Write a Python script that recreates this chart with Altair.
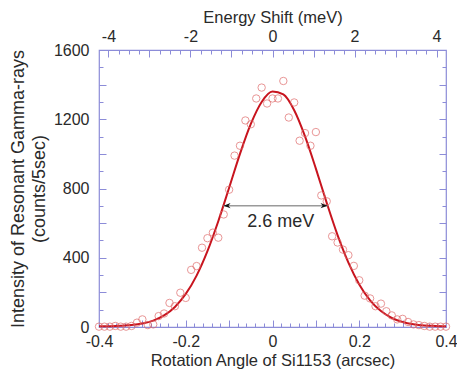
import altair as alt
import pandas as pd

# ---------------- data ----------------
angle = [-0.4, -0.3875, -0.375, -0.3625, -0.35, -0.3375, -0.325, -0.3125, -0.3, -0.2875,
         -0.275, -0.2625, -0.25, -0.2375, -0.225, -0.2125, -0.2, -0.1875, -0.175, -0.1625,
         -0.15, -0.1375, -0.125, -0.1125, -0.1, -0.0875, -0.075, -0.0625, -0.05, -0.0375,
         -0.025, -0.0125, 0.0, 0.0125, 0.025, 0.0375, 0.05, 0.0625, 0.075, 0.0875,
         0.1, 0.1125, 0.125, 0.1375, 0.15, 0.1625, 0.175, 0.1875, 0.2, 0.2125,
         0.225, 0.2375, 0.25, 0.2625, 0.275, 0.2875, 0.3, 0.3125, 0.325, 0.3375,
         0.35, 0.3625, 0.375, 0.3875, 0.4]
counts = [2, 2, 2, 6, 2, 2, 6, 25, 44, 11,
          15, 63, 78, 139, 120, 198, 168, 330, 352, 458,
          513, 545, 516, 650, 793, 990, 1047, 1193, 1171, 1320,
          1383, 1291, 1320, 1320, 1421, 1210, 1297, 1076, 1120, 1047,
          1126, 760, 726, 524, 488, 447, 415, 353, 270, 181,
          165, 120, 135, 91, 67, 44, 47, 29, 15, 11,
          6, 2, 2, 2, 2]

fit_angle = [-0.4, -0.375, -0.35, -0.325, -0.3, -0.275, -0.25, -0.225, -0.2, -0.175,
             -0.15, -0.125, -0.1, -0.075, -0.05, -0.025, 0.0, 0.025, 0.05, 0.075,
             0.1, 0.125, 0.15, 0.175, 0.2, 0.225, 0.25, 0.275, 0.3, 0.325,
             0.35, 0.375, 0.4]
fit_counts = [4, 5, 7, 11, 20, 37, 67, 116, 191, 297,
              438, 611, 804, 1000, 1173, 1300, 1360, 1343, 1252, 1101,
              915, 717, 531, 372, 246, 154, 92, 52, 29, 16,
              9, 6, 4]

arrow_x = [-0.113, 0.127]
arrow_y = [701, 701]
note_text = ["2.6 meV"]
note_x = [0.019]
note_y = [606]

x_labels = [-0.4, -0.2, 0, 0.2, 0.4]
y_labels = [0, 400, 800, 1200, 1600]
e_labels = [-4, -2, 0, 2, 4]
x_minor = [-0.38, -0.36, -0.34, -0.32, -0.28, -0.26, -0.24, -0.22, -0.18, -0.16, -0.14, -0.12,
           -0.08, -0.06, -0.04, -0.02, 0.02, 0.04, 0.06, 0.08, 0.12, 0.14, 0.16, 0.18,
           0.22, 0.24, 0.26, 0.28, 0.32, 0.34, 0.36, 0.38]
x_major = [-0.3, -0.2, -0.1, 0, 0.1, 0.2, 0.3]
y_minor = [100, 300, 500, 700, 900, 1100, 1300, 1500]
y_major = [200, 400, 600, 800, 1000, 1200, 1400]
e_minor = [-3.75, -3.5, -3.25, -2.75, -2.5, -2.25, -1.75, -1.5, -1.25, -0.75, -0.5, -0.25,
           0.25, 0.5, 0.75, 1.25, 1.5, 1.75, 2.25, 2.5, 2.75, 3.25, 3.5, 3.75]
e_major = [-4, -3, -2, -1, 0, 1, 2, 3, 4]

# ---------------- styling ----------------
BLUE = "#8c8cd8"
TEXT = "#2a2a2a"
FONT = "Liberation Sans"
LBL = 16

xs = alt.Scale(domain=[-0.4, 0.4], nice=False, zero=False)
ys = alt.Scale(domain=[0, 1600], nice=False, zero=False)
es = alt.Scale(domain=[-4.23, 4.23], nice=False, zero=False)

pts_df = pd.DataFrame({"angle": angle, "counts": counts})
fit_df = pd.DataFrame({"angle": fit_angle, "counts": fit_counts})
arrow_df = pd.DataFrame({"x1": [arrow_x[0]], "x2": [arrow_x[1]], "y": [arrow_y[0]]})
headL_df = pd.DataFrame({"x": [arrow_x[0]], "y": [arrow_y[0]]})
headR_df = pd.DataFrame({"x": [arrow_x[1]], "y": [arrow_y[1]]})
note_df = pd.DataFrame({"x": note_x, "y": note_y, "t": note_text})
e_df = pd.DataFrame({"e": e_labels, "c": [0] * len(e_labels)})

HYPHEN = "datum.value < 0 ? '-' + format(-datum.value, '~g') : format(datum.value, '~g')"


def tick_axis(orient, values, size):
    return alt.Axis(orient=orient, values=values, labels=False, ticks=True,
                    tickSize=size, offset=-size, tickColor=BLUE, tickWidth=1,
                    domain=False, grid=False, title=None)


def label_axis(orient, values, title, title_size, **kw):
    return alt.Axis(orient=orient, values=values, title=title, labelExpr=HYPHEN,
                    labelFlush=False, labelOverlap=False,
                    ticks=False, tickSize=0, domain=False, grid=False,
                    labelFont=FONT, labelFontSize=LBL, labelColor=TEXT,
                    titleFont=FONT, titleFontSize=title_size, titleColor=TEXT,
                    titleFontWeight="normal", **kw)


fit = alt.Chart(fit_df).mark_line(color="#c8141e", strokeWidth=2, interpolate="monotone").encode(
    x=alt.X("angle:Q", scale=xs,
            axis=label_axis("bottom", x_labels, "Rotation Angle of Si1153 (arcsec)", 16.5,
                            labelPadding=6, titlePadding=3)),
    y=alt.Y("counts:Q", scale=ys,
            axis=label_axis("left", y_labels, ["Intensity of Resonant Gamma-rays", "(counts/5sec)"], 18,
                            labelPadding=10, titlePadding=5, titleLineHeight=21)),
)

pts = alt.Chart(pts_df).mark_point(shape="circle", filled=False, color="#e06a6a",
                                   size=55, strokeWidth=1).encode(
    x=alt.X("angle:Q", scale=xs, axis=tick_axis("bottom", x_minor, 4)),
    y=alt.Y("counts:Q", scale=ys, axis=tick_axis("left", y_minor, 4)),
)

major = alt.Chart(pts_df).mark_point(opacity=0).encode(
    x=alt.X("angle:Q", scale=xs, axis=tick_axis("bottom", x_major, 7)),
    y=alt.Y("counts:Q", scale=ys, axis=tick_axis("left", y_major, 7)),
)

arrow = alt.Chart(arrow_df).mark_rule(color="#9a9a9a", strokeWidth=1.5).encode(
    x=alt.X("x1:Q", scale=xs, axis=None),
    x2="x2:Q",
    y=alt.Y("y:Q", scale=ys, axis=None),
)

headL = alt.Chart(headL_df).mark_point(
    shape="M0,0 L2,-0.75 L1.4,0 L2,0.75 Z", filled=True, color="#111111", size=50, opacity=1
).encode(
    x=alt.X("x:Q", scale=xs, axis=None),
    y=alt.Y("y:Q", scale=ys, axis=None),
)

headR = alt.Chart(headR_df).mark_point(
    shape="M0,0 L-2,-0.75 L-1.4,0 L-2,0.75 Z", filled=True, color="#111111", size=50, opacity=1
).encode(
    x=alt.X("x:Q", scale=xs, axis=None),
    y=alt.Y("y:Q", scale=ys, axis=None),
)

note = alt.Chart(note_df).mark_text(font=FONT, fontSize=18, color=TEXT, align="center",
                                    baseline="middle").encode(
    x=alt.X("x:Q", scale=xs, axis=None),
    y=alt.Y("y:Q", scale=ys, axis=None),
    text="t:N",
)

top_lbl = alt.Chart(e_df).mark_point(opacity=0).encode(
    x=alt.X("e:Q", scale=es,
            axis=label_axis("top", e_labels, "Energy Shift (meV)", 16.5,
                            labelPadding=6, titlePadding=3)),
    y=alt.Y("c:Q", scale=ys, axis=tick_axis("right", y_minor, 4)),
)

top_minor = alt.Chart(e_df).mark_point(opacity=0).encode(
    x=alt.X("e:Q", scale=es, axis=tick_axis("top", e_minor, 4)),
    y=alt.Y("c:Q", scale=ys, axis=tick_axis("right", y_major, 7)),
)

top_major = alt.Chart(e_df).mark_point(opacity=0).encode(
    x=alt.X("e:Q", scale=es, axis=tick_axis("top", e_major, 7)),
    y=alt.Y("c:Q", scale=ys, axis=None),
)

chart = alt.layer(
    major, top_lbl, top_minor, top_major, fit, pts, arrow, headL, headR, note
).resolve_scale(x="independent", y="independent").properties(
    width=347, height=277,
    autosize=alt.AutoSizeParams(type="none"),
    padding={"left": 91, "top": 42, "right": 11, "bottom": 44},
    background="white",
).configure_view(stroke=BLUE, strokeWidth=1.2)

chart.save("out.html", embed_options={"renderer": "svg", "actions": False})
